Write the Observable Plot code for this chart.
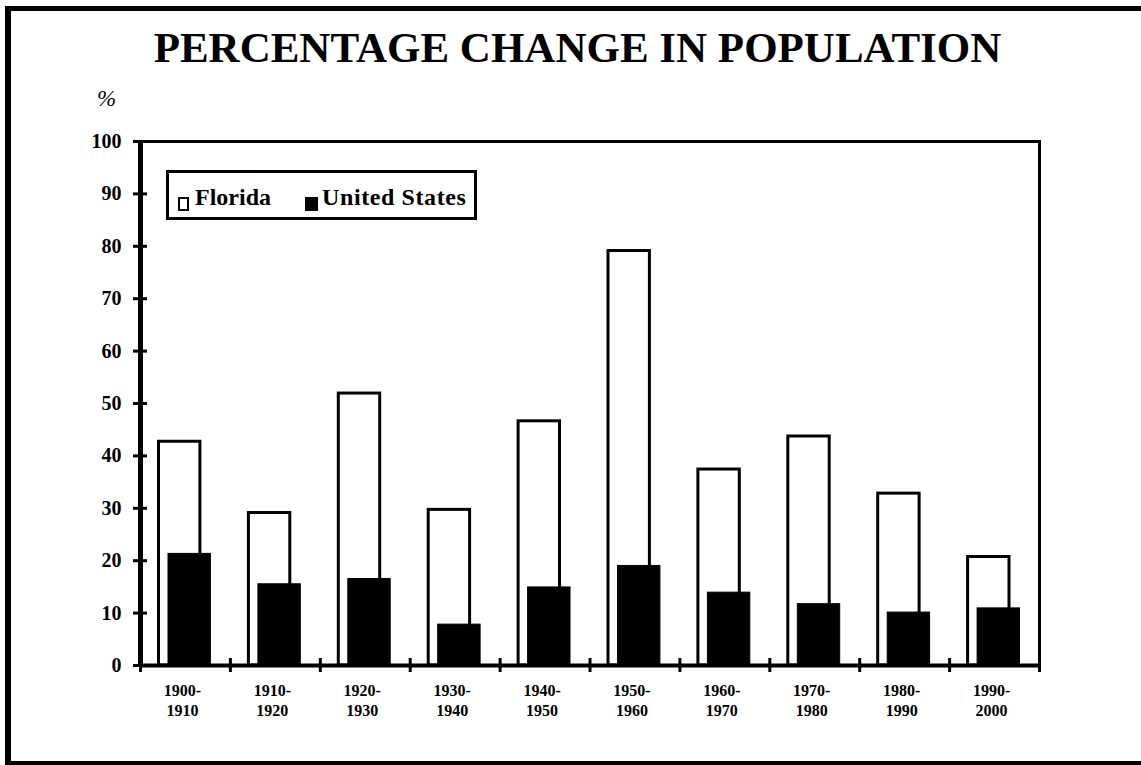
<!DOCTYPE html>
<html><head><meta charset="utf-8">
<script src="https://cdn.jsdelivr.net/npm/d3@7"></script>
<script src="https://cdn.jsdelivr.net/npm/@observablehq/plot@0.6"></script>
<style>
body{margin:0;background:#fff;}
#wrap{position:relative;width:1141px;height:765px;overflow:hidden;font-family:"Liberation Serif","Times New Roman",serif;color:#000;}
#border{position:absolute;left:5px;top:6px;width:1200px;height:750px;border-left:6px solid #000;border-top:5px solid #000;border-bottom:4px solid #000;}
#chart{position:absolute;left:0;top:0;}
#title{position:absolute;left:14px;width:1127px;top:26px;text-align:center;font-size:43px;line-height:1;font-weight:bold;white-space:nowrap;}
#pct{position:absolute;left:97px;top:87px;font-size:23px;line-height:1;font-style:italic;}
#legend{position:absolute;left:166px;top:170px;width:311px;height:50px;box-sizing:border-box;border:3px solid #000;background:#fff;}
.sw{position:absolute;box-sizing:border-box;}
.lt{position:absolute;font-size:24px;line-height:1;font-weight:bold;white-space:nowrap;}
</style>
</head><body>
<div id="wrap">
  <div id="chart"></div>
  <div id="border"></div>
  <div id="title"></div>
  <div id="pct">%</div>
  <div id="legend"></div>
</div>
<script>
const titleText = "PERCENTAGE CHANGE IN POPULATION";
const categories = ["1900-1910","1910-1920","1920-1930","1930-1940","1940-1950","1950-1960","1960-1970","1970-1980","1980-1990","1990-2000"];
const florida = [42.7, 29.1, 51.9, 29.7, 46.6, 79.1, 37.4, 43.7, 32.8, 20.7];
const unitedStates = [21.3, 15.5, 16.5, 7.8, 14.9, 19.0, 13.9, 11.7, 10.1, 10.9];
const yTicks = [0,10,20,30,40,50,60,70,80,90,100];
const seriesNames = ["Florida","United States"];

document.getElementById("title").textContent = titleText;

const data = categories.map((c,i)=>({period:c, florida:florida[i], us:unitedStates[i]}));

const W=1141, H=765, ML=140, MR=102, MT=141, MB=100;
const plotW = W-ML-MR, plotH = H-MT-MB;
const bw = plotW/categories.length;
const font = '"Liberation Serif","Times New Roman",serif';

const chart = Plot.plot({
  width:W, height:H,
  marginLeft:ML, marginRight:MR, marginTop:MT, marginBottom:MB,
  style:{fontFamily:font, background:"transparent", color:"#000"},
  x:{domain:categories, padding:0, round:false, axis:null},
  y:{domain:[0,100], axis:null},
  marks:[
    Plot.barY(data, {x:"period", y:"florida", fill:"white", stroke:"black", strokeWidth:3, insetLeft:18.5, insetRight:30}),
    Plot.barY(data, {x:"period", y:"us", fill:"black", stroke:"black", strokeWidth:1, insetLeft:28, insetRight:19.5}),
    Plot.frame({stroke:"black", strokeWidth:3}),
    Plot.ruleY([0], {stroke:"black", strokeWidth:4}),
    Plot.ruleX([categories[0]], {x:d=>d, dx:-bw/2, stroke:"black", strokeWidth:5}),
    Plot.ruleY(yTicks, {y:d=>d, insetLeft:-7, insetRight:plotW-7, stroke:"black", strokeWidth:3}),
    Plot.ruleX(categories, {x:d=>d, dx:-bw/2, insetTop:plotH-7, insetBottom:-7, stroke:"black", strokeWidth:3}),
    Plot.ruleX([categories[categories.length-1]], {x:d=>d, dx:bw/2, insetTop:plotH-7, insetBottom:-7, stroke:"black", strokeWidth:3}),
    Plot.axisY(yTicks, {tickSize:0, tickPadding:19, fontSize:20, fontWeight:"bold", fill:"black", label:null}),
    Plot.axisX(categories, {tickSize:0, tickPadding:16, fontSize:16, fontWeight:"bold", fill:"black", lineHeight:1.25, dx:-3, label:null, tickFormat:d=>d.replace("-","-\n")})
  ]
});
document.getElementById("chart").appendChild(chart);

// legend
const lg = document.getElementById("legend");
function add(el, css){ Object.assign(el.style, css); lg.appendChild(el); return el; }
const s1 = document.createElement("div"); s1.className="sw";
add(s1, {left:"9px", top:"24px", width:"11px", height:"14px", border:"2px solid #000", background:"#fff"});
const t1 = document.createElement("div"); t1.className="lt"; t1.textContent=seriesNames[0];
add(t1, {left:"26px", top:"12px"});
const s2 = document.createElement("div"); s2.className="sw";
add(s2, {left:"136px", top:"24px", width:"13px", height:"14px", background:"#000"});
const t2 = document.createElement("div"); t2.className="lt"; t2.textContent=seriesNames[1];
add(t2, {left:"153px", top:"12px", letterSpacing:"0.6px"});
</script>
</body></html>
